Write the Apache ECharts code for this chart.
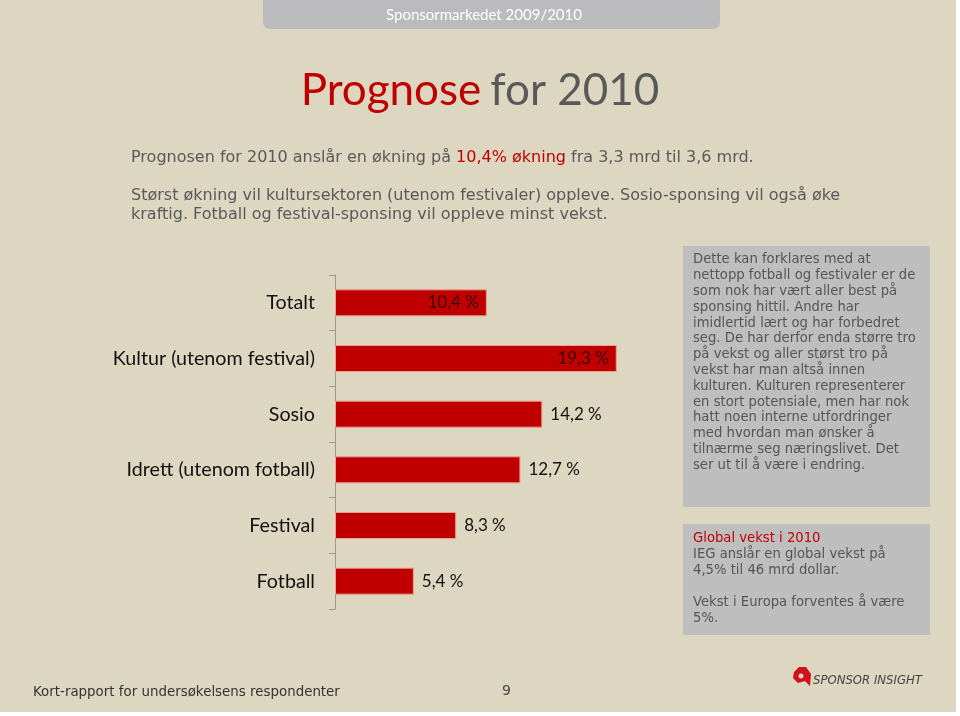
<!DOCTYPE html>
<html><head><meta charset="utf-8">
<script src="https://cdn.jsdelivr.net/npm/echarts@6/dist/echarts.min.js"></script>
<style>html,body{margin:0;padding:0;background:#fff}#c{width:960px;height:716px}</style>
</head><body><div id="c"></div>
<script>
const categories = ['Totalt', 'Kultur (utenom festival)', 'Sosio', 'Idrett (utenom fotball)', 'Festival', 'Fotball'];
const values = [10.4, 19.3, 14.2, 12.7, 8.3, 5.4];
const insideLabelCategories = ['Totalt', 'Kultur (utenom festival)'];

const chart = echarts.init(document.getElementById('c'), null, {renderer: 'canvas'});

const boxLines1 = ['Dette kan forklares med at','nettopp fotball og festivaler er de','som nok har vært aller best på','sponsing hittil. Andre har','imidlertid lært og har forbedret','seg. De har derfor enda større tro','på vekst og aller størst tro på','vekst har man altså innen','kulturen. Kulturen representerer','en stort potensiale, men har nok','hatt noen interne utfordringer','med hvordan man ønsker å','tilnærme seg næringslivet. Det','ser ut til å være i endring.'];

const option = {
  backgroundColor: '#ffffff',
  animation: false,
  grid: {left: 335, top: 275, width: 292, height: 334, containLabel: false},
  xAxis: {type: 'value', min: 0, max: 20, show: false},
  yAxis: {
    type: 'category', data: categories, inverse: true,
    axisLine: {show: true, lineStyle: {color: '#a09a8c', width: 1}},
    axisTick: {show: true, length: 6, lineStyle: {color: '#a09a8c'}},
    axisLabel: {color: '#111', fontFamily: 'Lato', fontSize: 19.7, margin: 20}
  },
  series: [{
    type: 'bar', barWidth: 27,
    data: values.map((v, i) => ({
      value: v,
      label: insideLabelCategories.includes(categories[i])
        ? {position: 'insideRight', color: '#3a0606', distance: 8}
        : {position: 'right', color: '#111', distance: 8}
    })),
    itemStyle: {color: '#c00000', borderColor: '#e8a090', borderWidth: 1},
    label: {show: true, fontFamily: 'Lato', fontSize: 17,
      formatter: p => p.value.toFixed(1).replace('.', ',') + ' %'}
  }],
  graphic: [
    {type: 'rect', shape: {x: 0, y: 0, width: 956, height: 712}, style: {fill: '#ddd6c1'}, z: -10},
    {type: 'rect', shape: {x: 263, y: -10, width: 457, height: 39, r: 7}, style: {fill: '#bbbbbd'}, z: -5},
    {type: 'text', x: 484, y: 15, style: {text: 'Sponsormarkedet 2009/2010', align: 'center', verticalAlign: 'middle', font: '15px "Lato"', fill: '#ffffff'}},
    {type: 'text', x: 480, y: 91, style: {
      text: '{r|Prognose}{g|for 2010}', align: 'center', verticalAlign: 'middle',
      rich: {r: {fill: '#c00000', font: '44px "Lato"'}, g: {fill: '#595959', font: '44px "Lato"', padding: [0, 0, 0, 9]}}}},
    {type: 'text', x: 131, y: 158, style: {
      text: '{a|Prognosen for 2010 anslår en økning på }{b|10,4% økning}{a| fra 3,3 mrd til 3,6 mrd.}', verticalAlign: 'middle',
      rich: {a: {fill: '#595959', font: '16px "DejaVu Sans"'}, b: {fill: '#c00000', font: '16px "DejaVu Sans"'}}}},
    {type: 'text', x: 131, y: 196, style: {text: 'Størst økning vil kultursektoren (utenom festivaler) oppleve. Sosio-sponsing vil også øke', verticalAlign: 'middle', fill: '#595959', font: '16px "DejaVu Sans"'}},
    {type: 'text', x: 131, y: 215, style: {text: 'kraftig. Fotball og festival-sponsing vil oppleve minst vekst.', verticalAlign: 'middle', fill: '#595959', font: '16px "DejaVu Sans"'}},
    {type: 'rect', shape: {x: 683, y: 246, width: 247, height: 261}, style: {fill: '#bebebe'}, z: -5},
    {type: 'text', x: 693, y: 252, style: {text: boxLines1.join('\n'), verticalAlign: 'top', lineHeight: 15.8, fill: '#555555', font: '13.2px "DejaVu Sans"'}},
    {type: 'rect', shape: {x: 683, y: 524, width: 247, height: 111}, style: {fill: '#bebebe'}, z: -5},
    {type: 'text', x: 693, y: 531, style: {text: 'Global vekst i 2010', verticalAlign: 'top', lineHeight: 16, fill: '#c00000', font: '13.2px "DejaVu Sans"'}},
    {type: 'text', x: 693, y: 547, style: {text: 'IEG anslår en global vekst på\n4,5% til 46 mrd dollar.\n\nVekst i Europa forventes å være\n5%.', verticalAlign: 'top', lineHeight: 16, fill: '#555555', font: '13.2px "DejaVu Sans"'}},
    {type: 'text', x: 33, y: 693, style: {text: 'Kort-rapport for undersøkelsens respondenter', verticalAlign: 'middle', fill: '#333333', font: '13.4px "DejaVu Sans"'}},
    {type: 'text', x: 502, y: 691, style: {text: '9', verticalAlign: 'middle', fill: '#444444', font: '14px "DejaVu Sans"'}},
    {type: 'polygon', shape: {points: [[794,672],[799,667],[806,667],[811,674],[810,686],[805,681],[798,683],[793,678]]}, style: {fill: '#d0101a'}},
    {type: 'circle', shape: {cx: 801, cy: 676, r: 2.5}, style: {fill: '#ddd6c1'}},
    {type: 'text', x: 813, y: 681, style: {text: 'SPONSOR INSIGHT', verticalAlign: 'middle', fill: '#444444', font: 'italic 13px "DejaVu Sans Condensed", "DejaVu Sans"'}}
  ]
};
chart.setOption(option);
</script></body></html>
